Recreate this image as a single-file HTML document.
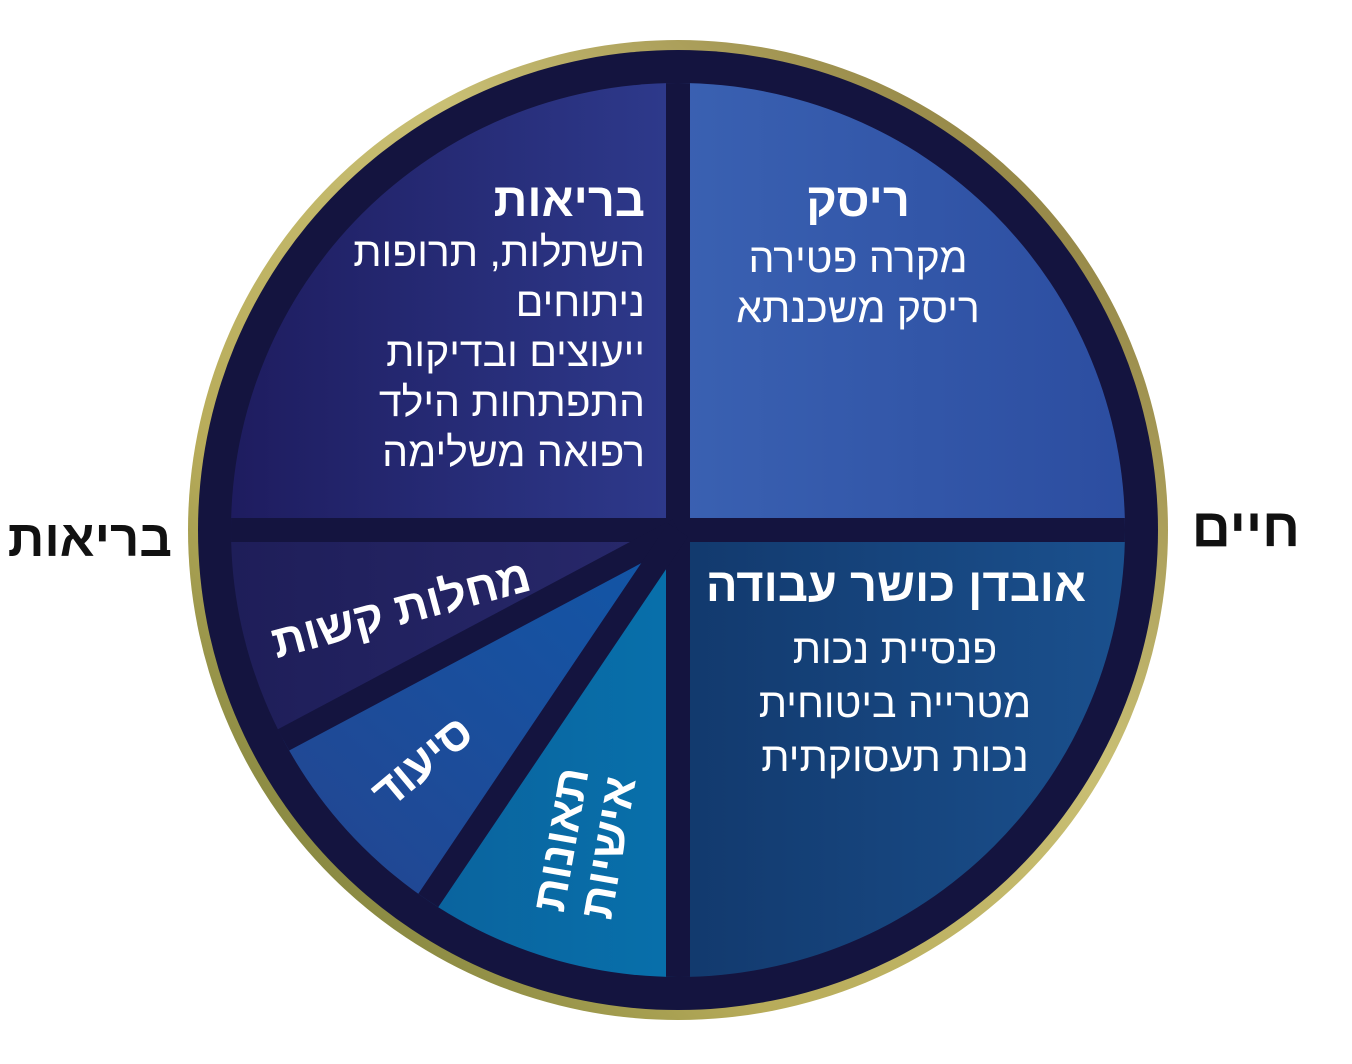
<!DOCTYPE html>
<html><head><meta charset="utf-8"><style>
html,body{margin:0;padding:0;background:#fff;}
svg{display:block;}
text{font-family:"Liberation Sans","DejaVu Sans",sans-serif;fill:#fff;}
.b{font-weight:bold;}
</style></head><body>
<svg width="1352" height="1064" viewBox="0 0 1352 1064" xmlns="http://www.w3.org/2000/svg">
<defs>
<linearGradient id="gold" x1="0" y1="1" x2="1" y2="0">
<stop offset="0" stop-color="#5f6a2c"/><stop offset="0.3" stop-color="#b8ac5a"/><stop offset="0.6" stop-color="#c9bf74"/><stop offset="1" stop-color="#7a6a30"/>
</linearGradient>
<linearGradient id="tl" x1="0" y1="0" x2="1" y2="0"><stop offset="0" stop-color="#1d1a5c"/><stop offset="1" stop-color="#2e3a8c"/></linearGradient>
<linearGradient id="tr" x1="0" y1="0" x2="1" y2="0"><stop offset="0" stop-color="#3a61b2"/><stop offset="1" stop-color="#2b4c9f"/></linearGradient>
<linearGradient id="br" x1="0" y1="0" x2="1" y2="0"><stop offset="0" stop-color="#12396d"/><stop offset="1" stop-color="#1b5290"/></linearGradient>
<linearGradient id="w1" x1="0" y1="0" x2="1" y2="0"><stop offset="0" stop-color="#1b1a52"/><stop offset="1" stop-color="#28296c"/></linearGradient>
<linearGradient id="w2" x1="0" y1="1" x2="1" y2="0"><stop offset="0" stop-color="#2a3f88"/><stop offset="1" stop-color="#1157a8"/></linearGradient>
<linearGradient id="w3" x1="0" y1="0" x2="1" y2="0"><stop offset="0" stop-color="#0b5f99"/><stop offset="1" stop-color="#0870ab"/></linearGradient>
<clipPath id="c"><circle cx="678" cy="530" r="447"/></clipPath>
</defs>
<circle cx="678" cy="530" r="490" fill="url(#gold)"/>
<circle cx="678" cy="530" r="480" fill="#14143f"/>
<g clip-path="url(#c)">
<rect x="200" y="60" width="478" height="470" fill="url(#tl)"/>
<rect x="678" y="60" width="480" height="470" fill="url(#tr)"/>
<rect x="678" y="530" width="480" height="480" fill="url(#br)"/>
<polygon points="678,530 78,530 148,812" fill="url(#w1)"/>
<polygon points="678,530 148,812 343,1027" fill="url(#w2)"/>
<polygon points="678,530 343,1027 678,1027" fill="url(#w3)"/>
<g stroke="#14143f" stroke-width="24">
<line x1="678" y1="40" x2="678" y2="1020"/>
<line x1="180" y1="530" x2="1170" y2="530"/>
<line x1="678" y1="530" x2="148" y2="812"/>
<line x1="678" y1="530" x2="343" y2="1027"/>
</g>
</g>
<text class="b" x="645" y="216" font-size="47" text-anchor="end">בריאות</text>
<g font-size="41" text-anchor="end">
<text x="645" y="266">השתלות, תרופות</text>
<text x="645" y="316">ניתוחים</text>
<text x="645" y="366">ייעוצים ובדיקות</text>
<text x="645" y="416">התפתחות הילד</text>
<text x="645" y="466">רפואה משלימה</text>
</g>
<text class="b" x="858" y="216" font-size="47" text-anchor="middle">ריסק</text>
<g font-size="41" text-anchor="middle">
<text x="858" y="272">מקרה פטירה</text>
<text x="858" y="322">ריסק משכנתא</text>
</g>
<text class="b" x="896" y="601" font-size="47" text-anchor="middle">אובדן כושר עבודה</text>
<g font-size="41" text-anchor="middle">
<text x="895" y="663">פנסיית נכות</text>
<text x="895" y="717">מטרייה ביטוחית</text>
<text x="895" y="771">נכות תעסוקתית</text>
</g>
<text class="b" font-size="46" text-anchor="middle" transform="translate(405,624) rotate(-15)">מחלות קשות</text>
<text class="b" font-size="46" text-anchor="middle" transform="translate(432,774) rotate(-40)">סיעוד</text>
<g font-size="46" text-anchor="middle" transform="translate(582,843) rotate(-80)">
<text class="b" x="0" y="-6">תאונות</text>
<text class="b" x="0" y="42">אישיות</text>
</g>
<text class="b" x="172" y="556" font-size="51" text-anchor="end" style="fill:#111">בריאות</text>
<text class="b" x="1300" y="546" font-size="54" text-anchor="end" style="fill:#111">חיים</text>
</svg>
</body></html>
